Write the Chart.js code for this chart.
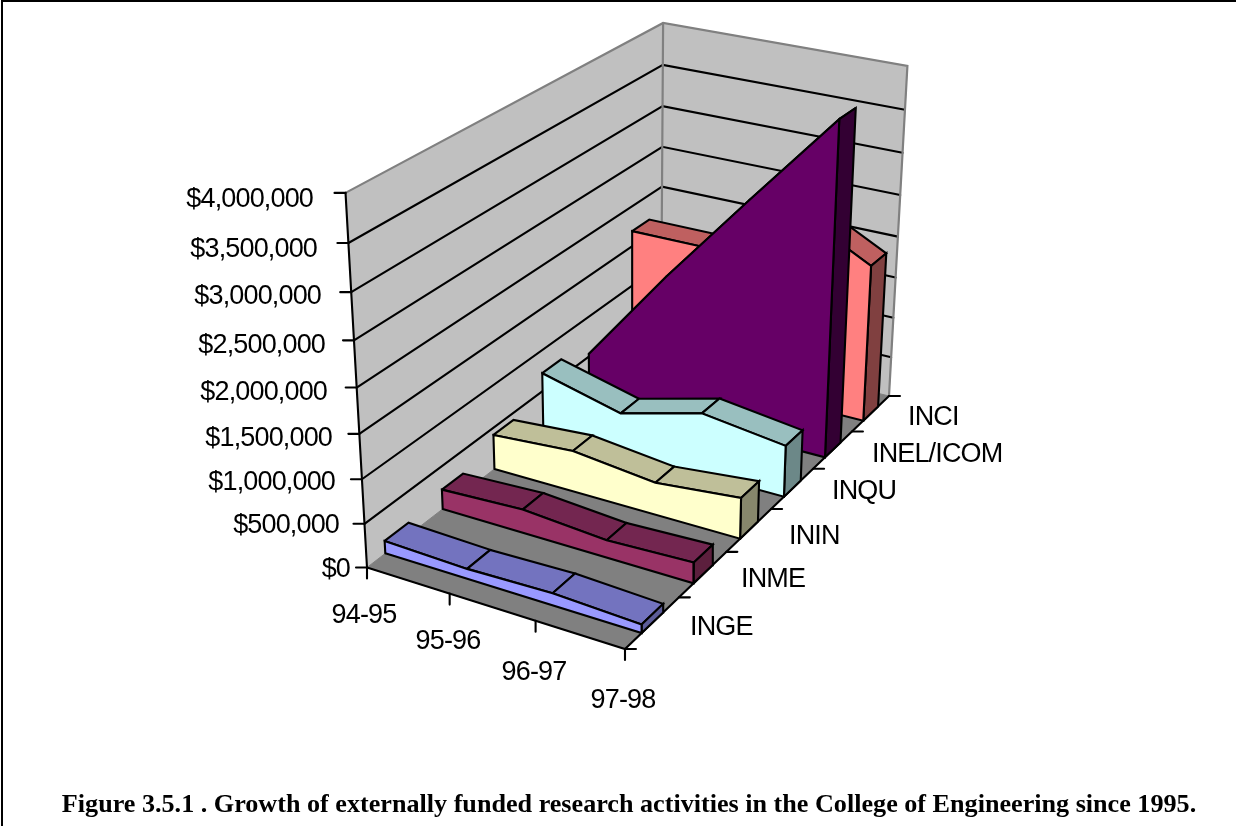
<!DOCTYPE html>
<html>
<head>
<meta charset="utf-8">
<style>
  html, body { margin: 0; padding: 0; background: #fff; overflow: hidden; }
  #frame { position: absolute; left: 0; top: 0; width: 1236px; height: 826px; }
</style>
<script src="https://cdn.jsdelivr.net/npm/chart.js@4"></script>
</head>
<body>
<canvas id="frame" width="1236" height="826"></canvas>
<script>
// Fiscal years along the front edge of the floor
const years = ['94-95', '95-96', '96-97', '97-98'];
// Departments, front to back
const departments = ['INGE', 'INME', 'ININ', 'INQU', 'INEL/ICOM', 'INCI'];

// Externally funded research per department, by fiscal year (USD)
const inge = [144000, 115000, 139000, 97000];
const inme = [230000, 273000, 201000, 238000];
const inin = [414000, 485000, 378000, 477000];
const inqu = [720000, 479000, 735000, 609000];
const inel = [534000, 1719000, 2830000, 3920000];
const inci = [1690000, 1690000, 2410000, 1910000];
const funding = [inge, inme, inin, inqu, inel, inci];

// Value axis
const valueTicks = [0, 500000, 1000000, 1500000, 2000000, 2500000, 3000000, 3500000, 4000000];
const valueMax = 4000000;

// Face colours per department: front, top, right side
const frontColors = ['#9999FF', '#993366', '#FFFFCC', '#CCFFFF', '#660066', '#FF8080'];
const topColors   = ['#7373BF', '#732650', '#BFBF99', '#99BFBF', '#4D004D', '#BF6060'];
const sideColors  = ['#5C5C99', '#5C1F3D', '#87876C', '#6C8888', '#330033', '#804040'];

// Camera: projective map of the unit box (x = year, t = depth, z = value) to canvas pixels
const cam = { a: 222.34, b: 424.63, c: 367, d: 44.47, e: -160.3, f: 567.5, g: -0.05705, h: 0.19763,
              p: -47.6, q: -389.2, qDepth: -0.02, r: -0.0756 };
// Depth positions of the department slots on the floor edge
const depthStops = [0, 0.175, 0.34, 0.506, 0.672, 0.835, 1];
const ribbonFront = 0.3, ribbonBack = 0.7;

const edgeWidth = 2.1;

function project(x, t, z) {
  const u = cam.a * x + cam.b * t + cam.c + z * cam.p;
  const v = cam.d * x + cam.e * t + cam.f + z * cam.q * (1 + cam.qDepth * t);
  const w = cam.g * x + cam.h * t + 1 + z * cam.r;
  return { x: u / w, y: v / w };
}
const poly = (...pts) => [...pts, pts[0]];

const datasets = [];
function face(points, fillColor, stroke, width) {
  datasets.push({
    data: points,
    showLine: true,
    pointRadius: 0,
    pointHoverRadius: 0,
    tension: 0,
    fill: fillColor ? 'shape' : false,
    backgroundColor: fillColor || 'transparent',
    borderColor: stroke,
    borderWidth: width,
    borderJoinStyle: 'miter',
    borderCapStyle: 'round',
    clip: false
  });
}

// Walls and floor
face(poly(project(0, 1, 0), project(1, 1, 0), project(1, 1, 1), project(0, 1, 1)), '#C0C0C0', '#C0C0C0', 1);
face(poly(project(0, 0, 0), project(0, 1, 0), project(0, 1, 1), project(0, 0, 1)), '#C0C0C0', '#C0C0C0', 1);
face(poly(project(0, 0, 0), project(1, 0, 0), project(1, 1, 0), project(0, 1, 0)), '#808080', '#808080', 1);

// Gridlines across both walls
valueTicks.slice(1, -1).forEach(v => {
  const z = v / valueMax;
  face([project(0, 0, z), project(0, 1, z), project(1, 1, z)], null, '#000', edgeWidth);
});

// Wall outline
face([project(0, 0, 1), project(0, 1, 1), project(1, 1, 1), project(1, 1, 0)], null, '#808080', 2.2);
face([project(0, 1, 1), project(0, 1, 0)], null, '#808080', 2.2);

// Axis lines
face([project(0, 0, 1), project(0, 0, 0), project(1, 0, 0), project(1, 1, 0)], null, '#000', edgeWidth);

// Tick marks
valueTicks.forEach(v => {
  const p = project(0, 0, v / valueMax);
  face([p, { x: p.x - 11, y: p.y }], null, '#000', edgeWidth);
});
years.forEach((_, i) => {
  const p = project(i / (years.length - 1), 0, 0);
  face([p, { x: p.x, y: p.y + 11 }], null, '#000', edgeWidth);
});
depthStops.forEach(t => {
  const p = project(1, t, 0);
  face([p, { x: p.x + 11, y: p.y }], null, '#000', edgeWidth);
});

// Ribbons, painted back to front
for (let s = departments.length - 1; s >= 0; s--) {
  const slot = depthStops[s + 1] - depthStops[s];
  const t0 = depthStops[s] + ribbonFront * slot;
  const t1 = depthStops[s] + ribbonBack * slot;
  const n = years.length - 1;
  const zs = funding[s].map(v => v / valueMax);
  for (let i = 0; i < n; i++) {
    face(poly(project(i / n, t0, zs[i]), project((i + 1) / n, t0, zs[i + 1]),
              project((i + 1) / n, t1, zs[i + 1]), project(i / n, t1, zs[i])),
         topColors[s], '#000', edgeWidth);
  }
  face(poly(project(1, t0, 0), project(1, t1, 0), project(1, t1, zs[n]), project(1, t0, zs[n])),
       sideColors[s], '#000', edgeWidth);
  const frontPts = zs.map((z, i) => project(i / n, t0, z));
  face(poly(project(0, t0, 0), ...frontPts, project(1, t0, 0)), frontColors[s], '#000', edgeWidth);
}

// Label anchors, in canvas pixels
const valueLabelRight = [350, 339, 335, 332, 327, 325, 321, 317, 313];
const valueLabelY = [570, 526, 483, 439, 393, 346, 297, 250, 200];
const yearLabelX = [364, 448, 534, 623];
const yearLabelY = [616, 642, 673, 701];
const deptLabelLeft = [690, 741, 789, 832, 872, 908];
const deptLabelY = [628, 580, 537, 492, 455, 418];
const caption = 'Figure 3.5.1 . Growth of externally funded research activities in the College of Engineering since 1995.';

const fmtMoney = v => '$' + v.toLocaleString('en-US');

const labelsPlugin = {
  id: 'boxLabels',
  afterDatasetsDraw(chart) {
    const { ctx, scales: { x, y } } = chart;
    ctx.save();
    ctx.fillStyle = '#000';
    ctx.textBaseline = 'middle';
    ctx.font = '27px "Liberation Sans"';
    ctx.letterSpacing = '-0.85px';
    ctx.textAlign = 'right';
    valueTicks.forEach((v, i) => ctx.fillText(fmtMoney(v), x.getPixelForValue(valueLabelRight[i]), y.getPixelForValue(valueLabelY[i])));
    ctx.textAlign = 'center';
    years.forEach((l, i) => ctx.fillText(l, x.getPixelForValue(yearLabelX[i]), y.getPixelForValue(yearLabelY[i])));
    ctx.textAlign = 'left';
    departments.forEach((l, i) => ctx.fillText(l, x.getPixelForValue(deptLabelLeft[i]), y.getPixelForValue(deptLabelY[i])));
    ctx.letterSpacing = '0px';
    ctx.font = 'bold 26.15px "Liberation Serif"';
    ctx.textAlign = 'center';
    ctx.textBaseline = 'alphabetic';
    ctx.fillText(caption, x.getPixelForValue(629), y.getPixelForValue(812));
    ctx.restore();
  }
};

// Rule along the top and left of the figure
const framePlugin = {
  id: 'figureFrame',
  afterDraw(chart) {
    const { ctx, width, height } = chart;
    ctx.save();
    ctx.strokeStyle = '#000';
    ctx.lineWidth = 2;
    ctx.beginPath();
    ctx.moveTo(2, height);
    ctx.lineTo(2, 1);
    ctx.lineTo(width, 1);
    ctx.stroke();
    ctx.restore();
  }
};

datasets.forEach((d, i) => { d.order = datasets.length - i; });

new Chart(document.getElementById('frame').getContext('2d'), {
  type: 'scatter',
  data: { datasets },
  options: {
    responsive: false,
    animation: false,
    layout: { padding: 0 },
    plugins: { legend: { display: false }, tooltip: { enabled: false }, title: { display: false } },
    events: [],
    scales: {
      x: { type: 'linear', min: 0, max: 1236, display: false },
      y: { type: 'linear', min: 0, max: 826, reverse: true, display: false }
    }
  },
  plugins: [labelsPlugin, framePlugin]
});
</script>
</body>
</html>
